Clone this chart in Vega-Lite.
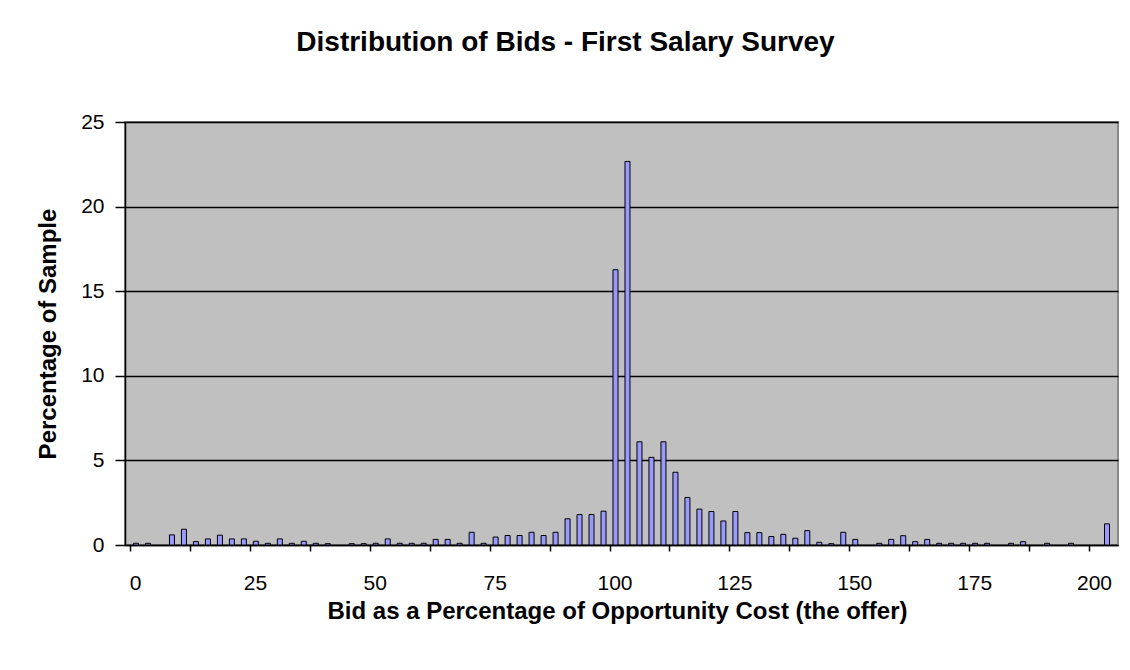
{
  "$schema": "https://vega.github.io/schema/vega-lite/v6.json",
  "width": 993,
  "height": 423,
  "autosize": {"type": "none"},
  "padding": {"left": 125, "top": 122, "right": 12, "bottom": 125},
  "background": "white",
  "title": {
    "text": "Distribution of Bids - First Salary Survey",
    "font": "Liberation Sans",
    "fontSize": 28,
    "fontWeight": "bold",
    "color": "black",
    "anchor": "middle",
    "frame": "group",
    "dx": -56,
    "baseline": "bottom",
    "offset": 26
  },
  "config": {
    "view": {"stroke": "#8a8a8a", "strokeWidth": 2, "fill": "#C0C0C0"},
    "axis": {
      "labelFont": "Liberation Sans",
      "titleFont": "Liberation Sans",
      "labelColor": "black",
      "titleColor": "black",
      "domainColor": "black",
      "tickColor": "black",
      "labelFontSize": 21,
      "titleFontSize": 24,
      "titleFontWeight": "bold"
    }
  },
  "data": {
    "values": [
      {"bid": 1.25, "pct": 0.1},
      {"bid": 3.75, "pct": 0.1},
      {"bid": 8.75, "pct": 0.6},
      {"bid": 11.25, "pct": 0.93},
      {"bid": 13.75, "pct": 0.2},
      {"bid": 16.25, "pct": 0.36},
      {"bid": 18.75, "pct": 0.58},
      {"bid": 21.25, "pct": 0.36},
      {"bid": 23.75, "pct": 0.36},
      {"bid": 26.25, "pct": 0.22},
      {"bid": 28.75, "pct": 0.1},
      {"bid": 31.25, "pct": 0.36},
      {"bid": 33.75, "pct": 0.1},
      {"bid": 36.25, "pct": 0.22},
      {"bid": 38.75, "pct": 0.1},
      {"bid": 41.25, "pct": 0.08},
      {"bid": 46.25, "pct": 0.08},
      {"bid": 48.75, "pct": 0.08},
      {"bid": 51.25, "pct": 0.1},
      {"bid": 53.75, "pct": 0.36},
      {"bid": 56.25, "pct": 0.1},
      {"bid": 58.75, "pct": 0.1},
      {"bid": 61.25, "pct": 0.1},
      {"bid": 63.75, "pct": 0.33},
      {"bid": 66.25, "pct": 0.33},
      {"bid": 68.75, "pct": 0.1},
      {"bid": 71.25, "pct": 0.75},
      {"bid": 73.75, "pct": 0.1},
      {"bid": 76.25, "pct": 0.47},
      {"bid": 78.75, "pct": 0.56},
      {"bid": 81.25, "pct": 0.56},
      {"bid": 83.75, "pct": 0.75},
      {"bid": 86.25, "pct": 0.56},
      {"bid": 88.75, "pct": 0.75},
      {"bid": 91.25, "pct": 1.55},
      {"bid": 93.75, "pct": 1.8},
      {"bid": 96.25, "pct": 1.8},
      {"bid": 98.75, "pct": 2.0},
      {"bid": 101.25, "pct": 16.27},
      {"bid": 103.75, "pct": 22.67},
      {"bid": 106.25, "pct": 6.1},
      {"bid": 108.75, "pct": 5.18},
      {"bid": 111.25, "pct": 6.1},
      {"bid": 113.75, "pct": 4.3},
      {"bid": 116.25, "pct": 2.81},
      {"bid": 118.75, "pct": 2.12},
      {"bid": 121.25, "pct": 1.98},
      {"bid": 123.75, "pct": 1.42},
      {"bid": 126.25, "pct": 1.98},
      {"bid": 128.75, "pct": 0.73},
      {"bid": 131.25, "pct": 0.73},
      {"bid": 133.75, "pct": 0.5},
      {"bid": 136.25, "pct": 0.63},
      {"bid": 138.75, "pct": 0.4},
      {"bid": 141.25, "pct": 0.85},
      {"bid": 143.75, "pct": 0.16},
      {"bid": 146.25, "pct": 0.08},
      {"bid": 148.75, "pct": 0.75},
      {"bid": 151.25, "pct": 0.33},
      {"bid": 156.25, "pct": 0.1},
      {"bid": 158.75, "pct": 0.33},
      {"bid": 161.25, "pct": 0.55},
      {"bid": 163.75, "pct": 0.2},
      {"bid": 166.25, "pct": 0.33},
      {"bid": 168.75, "pct": 0.1},
      {"bid": 171.25, "pct": 0.1},
      {"bid": 173.75, "pct": 0.1},
      {"bid": 176.25, "pct": 0.1},
      {"bid": 178.75, "pct": 0.1},
      {"bid": 183.75, "pct": 0.1},
      {"bid": 186.25, "pct": 0.2},
      {"bid": 191.25, "pct": 0.1},
      {"bid": 196.25, "pct": 0.1},
      {"bid": 203.75, "pct": 1.25}
    ]
  },
  "mark": {"type": "bar", "size": 5, "fill": "#9999FF", "stroke": "black", "strokeWidth": 1},
  "encoding": {
    "x": {
      "field": "bid",
      "type": "quantitative",
      "scale": {"domain": [0, 205], "nice": false, "zero": true},
      "axis": {
        "title": "Bid as a Percentage of Opportunity Cost (the offer)",
        "values": [0, 12.5, 25, 37.5, 50, 62.5, 75, 87.5, 100, 112.5, 125, 137.5, 150, 162.5, 175, 187.5, 200],
        "labelExpr": "datum.value % 25 === 0 ? datum.label : ''",
        "grid": false,
        "tickSize": 6,
        "tickWidth": 1.5,
        "domainWidth": 1.5,
        "labelPadding": 21,
        "labelOffset": 5,
        "labelFlush": false,
        "labelOverlap": false,
        "titlePadding": 6,
        "titleX": 492
      }
    },
    "y": {
      "field": "pct",
      "type": "quantitative",
      "scale": {"domain": [0, 25], "nice": false},
      "axis": {
        "title": "Percentage of Sample",
        "values": [0, 5, 10, 15, 20, 25],
        "grid": true,
        "gridColor": "black",
        "gridWidth": 1.5,
        "gridOpacity": 1,
        "tickSize": 10,
        "tickWidth": 1.5,
        "domainWidth": 1.5,
        "labelPadding": 11,
        "labelFlush": false,
        "titlePadding": 20
      }
    }
  }
}
